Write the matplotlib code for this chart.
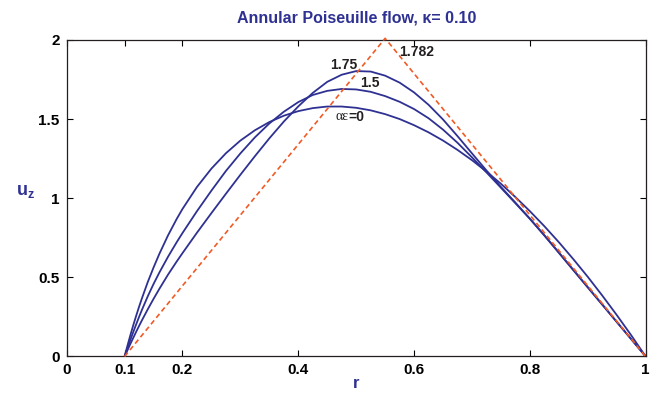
import matplotlib
matplotlib.use("Agg")
import matplotlib.pyplot as plt

# ---- data ----
r_ae0 = [0.100, 0.105, 0.110, 0.115, 0.120, 0.125, 0.130, 0.140, 0.150, 0.160, 0.175,
         0.190, 0.200, 0.225, 0.250, 0.275, 0.300, 0.325, 0.350, 0.375, 0.400, 0.425,
         0.450, 0.475, 0.500, 0.525, 0.550, 0.575, 0.600, 0.625, 0.650, 0.675, 0.700,
         0.725, 0.750, 0.775, 0.800, 0.825, 0.850, 0.875, 0.900, 0.925, 0.950, 0.975,
         1.000]
u_ae0 = [0.0, 0.069, 0.135, 0.198, 0.257, 0.314, 0.368, 0.470, 0.562, 0.648, 0.765,
         0.869, 0.932, 1.071, 1.187, 1.284, 1.364, 1.429, 1.481, 1.521, 1.550, 1.569,
         1.579, 1.579, 1.571, 1.555, 1.531, 1.500, 1.461, 1.416, 1.364, 1.305, 1.240,
         1.168, 1.091, 1.007, 0.918, 0.823, 0.722, 0.615, 0.503, 0.385, 0.262, 0.134,
         0.0]

r_ae15 = [0.100, 0.105, 0.110, 0.115, 0.120, 0.125, 0.130, 0.140, 0.150, 0.160, 0.175,
          0.190, 0.200, 0.225, 0.250, 0.275, 0.300, 0.325, 0.350, 0.375, 0.400, 0.425,
          0.450, 0.475, 0.500, 0.525, 0.550, 0.575, 0.600, 0.625, 0.650, 0.675, 0.700,
          0.725, 0.750, 0.775, 0.800, 0.825, 0.850, 0.875, 0.900, 0.925, 0.950, 0.975,
          1.000]
u_ae15 = [0.0, 0.053, 0.105, 0.155, 0.203, 0.250, 0.295, 0.380, 0.458, 0.530, 0.630,
          0.722, 0.780, 0.918, 1.048, 1.172, 1.283, 1.384, 1.472, 1.546, 1.607, 1.652,
          1.678, 1.690, 1.687, 1.672, 1.645, 1.609, 1.563, 1.505, 1.433, 1.350, 1.258,
          1.163, 1.066, 0.968, 0.870, 0.766, 0.657, 0.548, 0.438, 0.329, 0.219, 0.110,
          0.0]

r_ae175 = [0.100, 0.105, 0.110, 0.115, 0.120, 0.125, 0.130, 0.140, 0.150, 0.160, 0.175,
           0.190, 0.200, 0.225, 0.250, 0.275, 0.300, 0.325, 0.350, 0.375, 0.400, 0.425,
           0.450, 0.475, 0.500, 0.525, 0.550, 0.575, 0.600, 0.625, 0.650, 0.675, 0.700,
           0.725, 0.750, 0.775, 0.800, 0.825, 0.850, 0.875, 0.900, 0.925, 0.950, 0.975,
           1.000]
u_ae175 = [0.0, 0.040, 0.080, 0.118, 0.156, 0.193, 0.229, 0.298, 0.364, 0.427, 0.517,
           0.600, 0.653, 0.782, 0.906, 1.028, 1.148, 1.265, 1.378, 1.484, 1.580, 1.665,
           1.735, 1.780, 1.803, 1.800, 1.774, 1.730, 1.668, 1.590, 1.497, 1.392, 1.283,
           1.175, 1.071, 0.972, 0.870, 0.764, 0.655, 0.545, 0.436, 0.327, 0.218, 0.109,
           0.0]

r_lim = [0.10, 0.55, 1.00]
u_lim = [0.0, 2.01, 0.0]

x_ticks = [0, 0.1, 0.2, 0.4, 0.6, 0.8, 1]
x_ticklabels = ["0", "0.1", "0.2", "0.4", "0.6", "0.8", "1"]
y_ticks = [0, 0.5, 1, 1.5, 2]
y_ticklabels = ["0", "0.5", "1", "1.5", "2"]

title_text = "Annular Poiseuille flow, \u03ba= 0.10"
xlabel_text = "r"

BLUE = "#2E3192"
RED = "#F15A24"
TXT = "#231F20"
SANS = ["Liberation Sans", "DejaVu Sans"]
SERIF = ["Liberation Serif", "DejaVu Serif"]

plt.rcParams["font.family"] = SANS
plt.rcParams["mathtext.fontset"] = "custom"
plt.rcParams["mathtext.bf"] = "Liberation Sans:bold"
plt.rcParams["mathtext.rm"] = "Liberation Sans:bold"

fig = plt.figure(figsize=(6.59, 3.93), dpi=100)
ax = fig.add_axes([0.1012, 0.0929, 0.8786, 0.8056])

ax.plot(r_ae0, u_ae0, color=BLUE, lw=1.3)
ax.plot(r_ae15, u_ae15, color=BLUE, lw=1.3)
ax.plot(r_ae175, u_ae175, color=BLUE, lw=1.3)
ax.plot(r_lim, u_lim, color=RED, lw=1.2, ls=(0, (3, 2)), clip_on=False, zorder=3)

ax.set_xlim(0, 1)
ax.set_ylim(0, 2)
ax.set_xticks(x_ticks)
ax.set_xticklabels(x_ticklabels)
ax.set_yticks(y_ticks)
ax.set_yticklabels(y_ticklabels)
ax.tick_params(direction="in", top=True, right=True, length=4, width=0.8,
               labelsize=11, colors="black", pad=5)
for lab in ax.get_xticklabels() + ax.get_yticklabels():
    lab.set_fontweight("bold")
for s in ax.spines.values():
    s.set_linewidth(0.9)
    s.set_color("#231F20")

ax.set_title(title_text, color=BLUE, fontsize=11.5, fontweight="bold", pad=12.5)
ax.set_xlabel(xlabel_text, color=BLUE, fontsize=12, fontweight="bold", labelpad=-1)
ax.set_ylabel(r"$\mathbf{u_z}$", color=BLUE, fontsize=13, rotation=0,
              ha="center", va="center")
ax.yaxis.set_label_coords(-0.071, 0.52)

ax.text(0.5745, 1.925, "1.782", fontsize=10, fontweight="bold", color=TXT,
        ha="left", va="center")
ax.text(0.455, 1.84, "1.75", fontsize=10, fontweight="bold", color=TXT,
        ha="left", va="center")
ax.text(0.507, 1.726, "1.5", fontsize=10, fontweight="bold", color=TXT,
        ha="left", va="center")
ax.text(0.487, 1.515, "\u03b1\u03b5", fontsize=10, family=SERIF, color=TXT,
        ha="right", va="center")
ax.text(0.487, 1.515, "=0", fontsize=10, fontweight="bold", color=TXT,
        ha="left", va="center")

fig.savefig("out.png", dpi=100)
